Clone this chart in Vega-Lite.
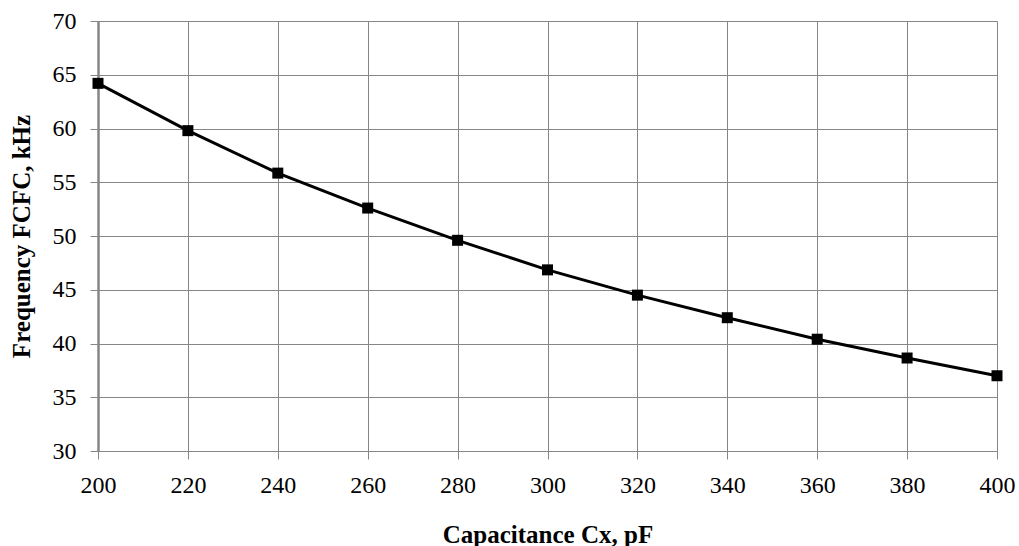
{
  "$schema": "https://vega.github.io/schema/vega-lite/v6.json",
  "width": 899,
  "height": 430,
  "autosize": "none",
  "padding": {"left": 98, "top": 21, "right": 22, "bottom": 95},
  "background": "white",
  "config": {
    "view": {"stroke": null},
    "axis": {
      "labelColor": "black",
      "titleColor": "black",
      "titleFontSize": 25,
      "titleFontWeight": "bold",
      "gridColor": "#868686",
      "gridWidth": 1,
      "gridOpacity": 1,
      "tickColor": "#868686",
      "tickSize": 8,
      "tickWidth": 1,
      "domainColor": "#868686",
      "labelFlush": false
    }
  },
  "data": {
    "values": [
      {"c": 200, "f": 64.2},
      {"c": 220, "f": 59.8},
      {"c": 240, "f": 55.85},
      {"c": 260, "f": 52.6},
      {"c": 280, "f": 49.6},
      {"c": 300, "f": 46.85},
      {"c": 320, "f": 44.5},
      {"c": 340, "f": 42.4},
      {"c": 360, "f": 40.4},
      {"c": 380, "f": 38.65},
      {"c": 400, "f": 37.0}
    ]
  },
  "encoding": {
    "x": {
      "field": "c",
      "type": "quantitative",
      "scale": {"domain": [200, 400], "nice": false, "zero": false},
      "axis": {
        "values": [200, 220, 240, 260, 280, 300, 320, 340, 360, 380, 400],
        "title": "Capacitance Cx, pF",
        "labelFont": "Liberation Serif",
        "titleFont": "Liberation Serif",
        "labelFontSize": 24,
        "labelFlush": false,
        "labelPadding": 14,
        "titlePadding": 25,
        "domain": false
      }
    },
    "y": {
      "field": "f",
      "type": "quantitative",
      "scale": {"domain": [30, 70], "nice": false, "zero": false},
      "axis": {
        "values": [30, 35, 40, 45, 50, 55, 60, 65, 70],
        "title": "Frequency FCFC, kHz",
        "labelFont": "Liberation Serif",
        "titleFont": "Liberation Serif",
        "labelFontSize": 24,
        "labelFlush": false,
        "labelPadding": 14,
        "titlePadding": 18,
        "domainWidth": 2.5
      }
    }
  },
  "layer": [
    {"mark": {"type": "line", "color": "black", "strokeWidth": 3}},
    {"mark": {"type": "square", "color": "black", "filled": true, "opacity": 1, "size": 121}}
  ]
}
